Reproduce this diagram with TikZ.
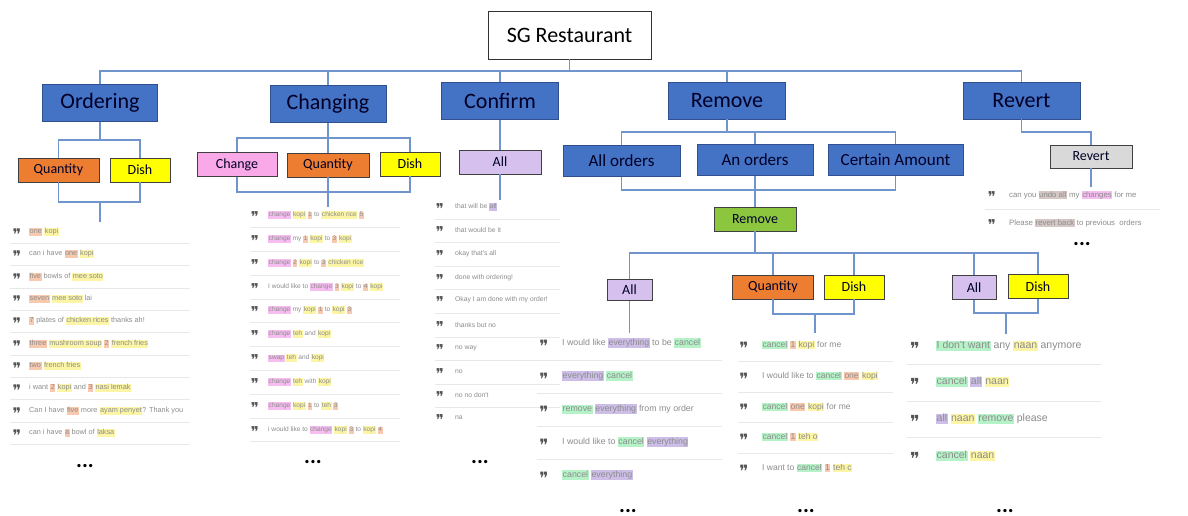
\documentclass[tikz,border=0pt]{standalone}
\usepackage{fontspec}
\setmainfont{Carlito}
\newfontfamily\listfont{Liberation Sans}
\newfontfamily\dingfont{DejaVu Sans}
\definecolor{boxblue}{HTML}{4472C4}
\definecolor{boxedge}{HTML}{2F4F8F}
\definecolor{lnk}{HTML}{7095CC}
\definecolor{qorange}{HTML}{ED7D31}
\definecolor{dyellow}{HTML}{FFFF00}
\definecolor{cpink}{HTML}{F9A8E8}
\definecolor{alav}{HTML}{D5C0EE}
\definecolor{rgreen}{HTML}{8CC63F}
\definecolor{rgrey}{HTML}{D9D9D9}
\definecolor{hQ}{HTML}{F8C9AE}
\definecolor{hD}{HTML}{FCF5A5}
\definecolor{hC}{HTML}{F5BDF0}
\definecolor{hA}{HTML}{CDBEE8}
\definecolor{hX}{HTML}{B6F2C8}
\definecolor{hR}{HTML}{D5C8C4}
\definecolor{ltext}{HTML}{8C8C8C}
\definecolor{qcol}{HTML}{555555}
\definecolor{sepc}{HTML}{E8E8E8}
\newcommand\hlbox[2]{{\setlength{\fboxsep}{0.5pt}\colorbox{#1}{\vphantom{Ag}#2}}}
\newcommand\hlQ[1]{\hlbox{hQ}{#1}}
\newcommand\hlD[1]{\hlbox{hD}{#1}}
\newcommand\hlC[1]{\hlbox{hC}{#1}}
\newcommand\hlA[1]{\hlbox{hA}{#1}}
\newcommand\hlX[1]{\hlbox{hX}{#1}}
\newcommand\hlR[1]{\hlbox{hR}{#1}}
\newcommand\lsz{\fontsize{7}{8}\selectfont}
\newcommand\qsz{\fontsize{7}{8}\selectfont}
\newcommand\lrow[5]{\node[qm] (#1q) at (#2,#4) {❞}; \node[lt] (#1) at (#3,#4) {#5};}
\tikzset{
 lk/.style={draw=lnk, line width=1.2pt},
 sepl/.style={draw=sepc, line width=0.8pt},
 lt/.style={inner sep=0pt, text=ltext, font=\listfont\lsz, anchor=west},
 qm/.style={inner sep=0pt, text=qcol, font=\dingfont\qsz, anchor=north, yshift=3.5pt},
 dotsn/.style={font=\bfseries\fontsize{22}{22}\selectfont, inner sep=0pt},
 topbox/.style={draw=black!80, fill=white, line width=0.8pt, minimum width=163pt, minimum height=48pt, inner sep=0pt, font=\fontsize{22}{26}\selectfont},
 cat/.style={draw=boxedge, fill=boxblue, line width=0.8pt, minimum height=37pt, inner sep=0pt, text=black!85!blue, font=\fontsize{22}{26}\selectfont},
 sub/.style={draw=boxedge, fill=boxblue, line width=0.8pt, minimum height=31pt, inner sep=0pt, text=black!85!blue, font=\fontsize{17}{20}\selectfont},
 small/.style={draw=black!75, line width=0.8pt, minimum height=24pt, inner sep=0pt, text=black!85!blue, font=\fontsize{14}{17}\selectfont},
}
\begin{document}
\begin{tikzpicture}[x=1pt,y=-1pt]
\fill[white] (0,0) rectangle (1188,516);
\useasboundingbox (0,0) rectangle (1188,516);

% ---------- boxes ----------
\node[topbox] (sg) at (569.5,35) {SG Restaurant};
\node[cat, minimum width=115pt] (ord) at (100,103) {Ordering};
\node[cat, minimum width=116pt] (chg) at (328,104) {Changing};
\node[cat, minimum width=117pt] (cnf) at (500,101) {Confirm};
\node[cat, minimum width=117pt] (rem) at (727,100.5) {Remove};
\node[cat, minimum width=117pt] (rev) at (1021.5,100.5) {Revert};

\node[small, fill=qorange, minimum width=81pt] (q1) at (58.5,170) {Quantity};
\node[small, fill=dyellow, minimum width=60pt] (d1) at (140,170) {Dish};

\node[small, fill=cpink, minimum width=80pt] (c2) at (237,164.5) {Change};
\node[small, fill=qorange, minimum width=82pt] (q2) at (328,165) {Quantity};
\node[small, fill=dyellow, minimum width=60pt] (d2) at (410,164) {Dish};

\node[small, fill=alav, minimum width=82pt] (a3) at (500,162) {All};

\node[sub, minimum width=117pt] (aord) at (621.5,161) {All orders};
\node[sub, minimum width=116pt] (anord) at (755,160) {An orders};
\node[sub, minimum width=135pt] (cert) at (895.5,160) {Certain Amount};
\node[small, fill=rgreen, minimum width=82pt] (rmg) at (755,219) {Remove};

\node[small, fill=alav, minimum width=45pt, minimum height=21pt] (a4) at (629.5,290) {All};
\node[small, fill=qorange, minimum width=81pt] (q5) at (773,287) {Quantity};
\node[small, fill=dyellow, minimum width=60pt] (d5) at (854,287) {Dish};
\node[small, fill=alav, minimum width=44pt] (a6) at (974,287.5) {All};
\node[small, fill=dyellow, minimum width=60pt] (d6) at (1038,286.5) {Dish};

\node[small, fill=rgrey, minimum width=82pt, minimum height=23pt] (rg) at (1091,156.5) {Revert};

% ---------- connectors ----------
\coordinate (b0) at (569.5,71);
\draw[lk] (sg.south) -- (b0);
\draw[lk] (ord.north) -- (ord.north |- b0) -- (rev.north |- b0) -- (rev.north);
\draw[lk] (chg.north) -- (chg.north |- b0);
\draw[lk] (cnf.north) -- (cnf.north |- b0);
\draw[lk] (rem.north) -- (rem.north |- b0);

% Ordering
\coordinate (b1) at (100,140);
\draw[lk] (ord.south) -- (b1);
\draw[lk] (q1.north) -- (q1.north |- b1) -- (d1.north |- b1) -- (d1.north);
\coordinate (b1l) at (100,202);
\coordinate (e1) at (100,222);
\draw[lk] (q1.south) -- (q1.south |- b1l) -- (d1.south |- b1l) -- (d1.south);
\draw[lk] (b1l) -- (e1);

% Changing
\coordinate (b2) at (328,138);
\draw[lk] (chg.south) -- (q2.north);
\draw[lk] (c2.north) -- (c2.north |- b2) -- (d2.north |- b2) -- (d2.north);
\coordinate (b2l) at (328,192);
\coordinate (e2) at (328,207);
\draw[lk] (c2.south) -- (c2.south |- b2l) -- (d2.south |- b2l) -- (d2.south);
\draw[lk] (q2.south) -- (e2);

% Confirm
\coordinate (e3) at (500,200);
\draw[lk] (cnf.south) -- (a3.north);
\draw[lk] (a3.south) -- (e3);

% Remove
\coordinate (b4) at (727,132);
\draw[lk] (rem.south) -- (b4);
\draw[lk] (aord.north) -- (aord.north |- b4) -- (cert.north |- b4) -- (cert.north);
\draw[lk] (anord.north) -- (anord.north |- b4);
\coordinate (b4l) at (755,190);
\draw[lk] (aord.south) -- (aord.south |- b4l) -- (cert.south |- b4l) -- (cert.south);
\draw[lk] (anord.south) -- (rmg.north);
\coordinate (b5) at (755,253);
\draw[lk] (rmg.south) -- (b5);
\draw[lk] (a4.north) -- (a4.north |- b5) -- (d6.north |- b5) -- (d6.north);
\draw[lk] (q5.north) -- (q5.north |- b5);
\draw[lk] (d5.north) -- (d5.north |- b5);
\draw[lk] (a6.north) -- (a6.north |- b5);
\coordinate (e4) at (629.5,333);
\draw[lk] (a4.south) -- (e4);
\coordinate (b5a) at (815,314);
\coordinate (e5) at (815,333);
\draw[lk] (q5.south) -- (q5.south |- b5a) -- (d5.south |- b5a) -- (d5.south);
\draw[lk] (b5a) -- (e5);
\coordinate (b6a) at (1006,313);
\coordinate (e6) at (1006,334);
\draw[lk] (a6.south) -- (a6.south |- b6a) -- (d6.south |- b6a) -- (d6.south);
\draw[lk] (b6a) -- (e6);

% Revert
\coordinate (b7) at (1021.5,132);
\draw[lk] (rev.south) -- (b7) -- (rg.north |- b7) -- (rg.north);
\coordinate (e7) at (1091,187);
\draw[lk] (rg.south) -- (e7);

% ---------- list 1 (Ordering) ----------
\renewcommand\lsz{\fontsize{7.3}{8}\selectfont}
\renewcommand\qsz{\fontsize{16}{16}\selectfont}
\foreach \y in {243,265.5,288,310,332.5,355,377,399.5,422,444} \draw[sepl] (10,\y) -- (190,\y);
\lrow{o1}{17}{29}{232}{\hlQ{one} \hlD{kopi}}
\lrow{o2}{17}{29}{254}{can i have \hlQ{one} \hlD{kopi}}
\lrow{o3}{17}{29}{277}{\hlQ{five} bowls of \hlD{mee soto}}
\lrow{o4}{17}{29}{299}{\hlQ{seven} \hlD{mee soto} lai}
\lrow{o5}{17}{29}{321}{\hlQ{7} plates of \hlD{chicken rices} thanks ah!}
\lrow{o6}{17}{29}{344}{\hlQ{three} \hlD{mushroom soup} \hlQ{2} \hlD{french fries}}
\lrow{o7}{17}{29}{366}{\hlQ{two} \hlD{french fries}}
\lrow{o8}{17}{29}{388}{i want \hlQ{2} \hlD{kopi} and \hlQ{3} \hlD{nasi lemak}}
\lrow{o9}{17}{29}{411}{Can I have \hlQ{five} more \hlD{ayam penyet}? Thank you}
\lrow{o10}{17}{29}{433}{can i have \hlQ{a} bowl of \hlD{laksa}}
\node[dotsn] (dots1) at (85,466) {...};

% ---------- list 2 (Changing) ----------
\renewcommand\lsz{\fontsize{6.6}{8}\selectfont}
\renewcommand\qsz{\fontsize{15}{15}\selectfont}
\foreach \y in {227,251,275,299,322,346,370,394,418,441} \draw[sepl] (250,\y) -- (400,\y);
\lrow{c1}{255}{268}{215}{\hlC{change} \hlD{kopi} \hlQ{1} to \hlD{chicken rice} \hlQ{5}}
\lrow{c2t}{255}{268}{239}{\hlC{change} my \hlQ{1} \hlD{kopi} to \hlQ{3} \hlD{kopi}}
\lrow{c3}{255}{268}{263}{\hlC{change} \hlQ{2} \hlD{kopi} to \hlQ{3} \hlD{chicken rice}}
\lrow{c4}{255}{268}{287}{I would like to \hlC{change} \hlQ{3} \hlD{kopi} to \hlQ{4} \hlD{kopi}}
\lrow{c5}{255}{268}{310}{\hlC{change} my \hlD{kopi} \hlQ{1} to \hlD{kopi} \hlQ{3}}
\lrow{c6}{255}{268}{334}{\hlC{change} \hlD{teh} and \hlD{kopi}}
\lrow{c7}{255}{268}{358}{\hlC{swap} \hlD{teh} and \hlD{kopi}}
\lrow{c8}{255}{268}{382}{\hlC{change} \hlD{teh} with \hlD{kopi}}
\lrow{c9}{255}{268}{406}{\hlC{change} \hlD{kopi} \hlQ{1} to \hlD{teh} \hlQ{3}}
\lrow{c10}{255}{268}{430}{i would like to \hlC{change} \hlD{kopi} \hlQ{3} to \hlD{kopi} \hlQ{4}}
\node[dotsn] (dots2) at (313,462) {...};

% ---------- list 3 (Confirm) ----------
\renewcommand\lsz{\fontsize{6.8}{8}\selectfont}
\renewcommand\qsz{\fontsize{15}{15}\selectfont}
\foreach \y in {219,242,266,289,313,337,360,384,407} \draw[sepl] (435,\y) -- (560,\y);
\lrow{f1}{440}{455}{207}{that will be \hlA{all}}
\lrow{f2}{440}{455}{230}{that would be it}
\lrow{f3}{440}{455}{254}{okay that's all}
\lrow{f4}{440}{455}{278}{done with ordering!}
\lrow{f5}{440}{455}{300}{Okay I am done with my order!}
\lrow{f6}{440}{455}{325}{thanks but no}
\lrow{f7}{440}{455}{348}{no way}
\lrow{f8}{440}{455}{372}{no}
\lrow{f9}{440}{455}{395}{no no don't}
\lrow{f10}{440}{455}{418}{na}
\node[dotsn] (dots3) at (480,462) {...};

% ---------- list 4 (Remove / All) ----------
\renewcommand\lsz{\fontsize{8.8}{10}\selectfont}
\renewcommand\qsz{\fontsize{17}{17}\selectfont}
\foreach \y in {360,393,426,459} \draw[sepl] (537,\y) -- (722,\y);
\lrow{r1}{544}{562}{343}{I would like \hlA{everything} to be \hlX{cancel}}
\lrow{r2}{544}{562}{376}{\hlA{everything} \hlX{cancel}}
\lrow{r3}{544}{562}{409}{\hlX{remove} \hlA{everything} from my order}
\lrow{r4}{544}{562}{442}{I would like to \hlX{cancel} \hlA{everything}}
\lrow{r5}{544}{562}{475}{\hlX{cancel} \hlA{everything}}
\node[dotsn] (dots4) at (628,511) {...};

% ---------- list 5 (Remove / Quantity, Dish) ----------
\renewcommand\lsz{\fontsize{8.5}{10}\selectfont}
\renewcommand\qsz{\fontsize{17}{17}\selectfont}
\foreach \y in {361,392,422,453} \draw[sepl] (738,\y) -- (893,\y);
\lrow{s1}{744}{762}{345}{\hlX{cancel} \hlQ{1} \hlD{kopi} for me}
\lrow{s2}{744}{762}{376}{I would like to \hlX{cancel} \hlQ{one} \hlD{kopi}}
\lrow{s3}{744}{762}{407}{\hlX{cancel} \hlQ{one} \hlD{kopi} for me}
\lrow{s4}{744}{762}{437}{\hlX{cancel} \hlQ{1} \hlD{teh o}}
\lrow{s5}{744}{762}{468}{I want to \hlX{cancel} \hlQ{1} \hlD{teh c}}
\node[dotsn] (dots5) at (806,511) {...};

% ---------- list 6 (Remove / All, Dish) ----------
\renewcommand\lsz{\fontsize{10.5}{12}\selectfont}
\renewcommand\qsz{\fontsize{18}{18}\selectfont}
\foreach \y in {364,401,437} \draw[sepl] (907,\y) -- (1101,\y);
\lrow{t1}{915}{936}{346}{\hlX{I don't want} any \hlD{naan} anymore}
\lrow{t2}{915}{936}{382}{\hlX{cancel} \hlA{all} \hlD{naan}}
\lrow{t3}{915}{936}{419}{\hlA{all} \hlD{naan} \hlX{remove} please}
\lrow{t4}{915}{936}{456}{\hlX{cancel} \hlD{naan}}
\node[dotsn] (dots6) at (1005,511) {...};

% ---------- list 7 (Revert) ----------
\renewcommand\lsz{\fontsize{7.8}{9}\selectfont}
\renewcommand\qsz{\fontsize{15}{15}\selectfont}
\draw[sepl] (985,209) -- (1160,209);
\lrow{v1}{992}{1009}{195}{can you \hlR{undo all} my \hlC{changes} for me}
\lrow{v2}{992}{1009}{223}{Please \hlR{revert back} to previous\ \ orders}
\node[dotsn] (dots7) at (1082,244) {...};
\end{tikzpicture}
\end{document}
